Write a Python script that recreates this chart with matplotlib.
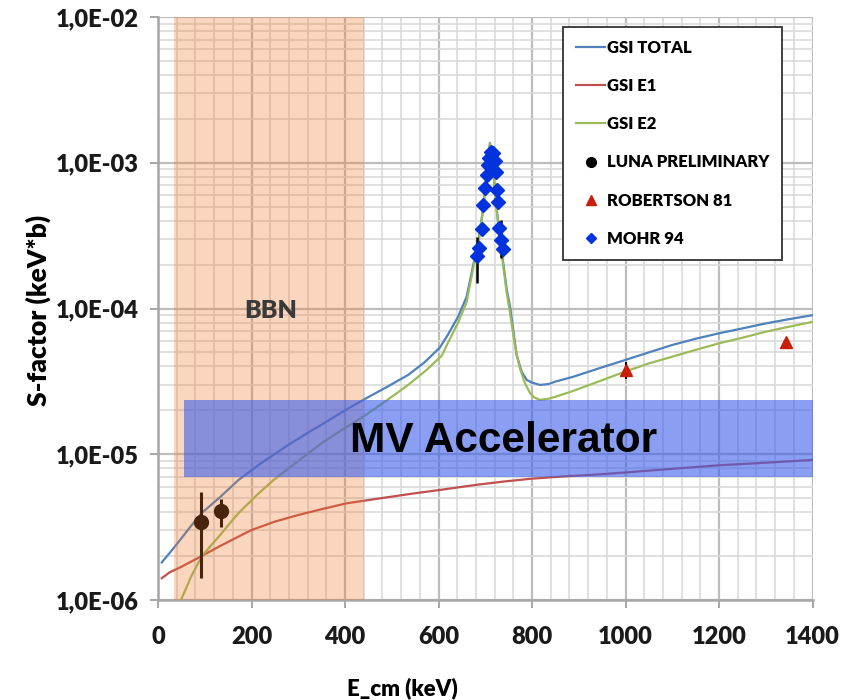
import matplotlib
matplotlib.use("Agg")
import matplotlib.pyplot as plt
from matplotlib.patches import Rectangle
from matplotlib.lines import Line2D
from matplotlib.ticker import FixedLocator, FixedFormatter, MultipleLocator, LogLocator, NullFormatter

# ---- data -------------------------------------------------------------
# GSI calculation: total S-factor (keV*b) vs centre-of-mass energy (keV)
gsi_total_e = [8, 30, 50, 70, 93, 130, 172, 220, 279, 320, 360, 400, 439, 490, 535, 570, 603,
               620, 642, 660, 675, 686, 696, 703, 710, 717, 724, 732, 739, 746, 753, 760, 767,
               778, 789, 800, 817, 835, 850, 888, 950, 1000, 1050, 1100, 1150, 1200, 1250,
               1300, 1350, 1400]
gsi_total_s = [1.81e-6, 2.2e-6, 2.65e-6, 3.2e-6, 3.94e-6, 4.99e-6, 6.65e-6, 8.67e-6, 1.16e-5,
               1.4e-5, 1.67e-5, 2.0e-5, 2.36e-5, 2.9e-5, 3.5e-5, 4.27e-5, 5.4e-5, 6.6e-5,
               8.8e-5, 1.2e-4, 2.04e-4, 3.0e-4, 5.0e-4, 8.5e-4, 1.37e-3, 9.0e-4, 5.0e-4,
               2.9e-4, 2.0e-4, 1.35e-4, 1.03e-4, 7.1e-5, 4.8e-5, 3.68e-5, 3.23e-5, 3.1e-5,
               2.99e-5, 3.03e-5, 3.15e-5, 3.40e-5, 3.95e-5, 4.44e-5, 5.0e-5, 5.62e-5, 6.2e-5,
               6.76e-5, 7.3e-5, 7.9e-5, 8.45e-5, 9.0e-5]

# GSI E1 component
gsi_e1_e = [8, 25, 50, 93, 130, 165, 200, 250, 300, 350, 404, 450, 500, 550, 603, 678, 740,
            800, 870, 945, 1000, 1117, 1200, 1300, 1400]
gsi_e1_s = [1.41e-6, 1.55e-6, 1.69e-6, 2.0e-6, 2.32e-6, 2.65e-6, 3.02e-6, 3.45e-6, 3.83e-6,
            4.2e-6, 4.61e-6, 4.85e-6, 5.12e-6, 5.4e-6, 5.69e-6, 6.15e-6, 6.5e-6, 6.8e-6,
            7.05e-6, 7.28e-6, 7.5e-6, 8.02e-6, 8.4e-6, 8.75e-6, 9.14e-6]

# GSI E2 component
gsi_e2_e = [49, 60, 70, 93, 110, 130, 150, 172, 210, 247, 300, 350, 395, 439, 490, 535, 575,
            607, 620, 642, 660, 675, 686, 696, 703, 710, 717, 724, 732, 739, 746, 753, 764,
            774, 785, 796, 805, 817, 835, 850, 888, 950, 1000, 1050, 1100, 1150, 1200, 1250,
            1300, 1350, 1400]
gsi_e2_s = [1.0e-6, 1.2e-6, 1.43e-6, 1.98e-6, 2.3e-6, 2.72e-6, 3.25e-6, 3.94e-6, 5.2e-6,
            6.65e-6, 9.0e-6, 1.19e-5, 1.48e-5, 1.81e-5, 2.35e-5, 2.99e-5, 3.8e-5, 4.75e-5,
            5.8e-5, 8.0e-5, 1.1e-4, 1.95e-4, 2.9e-4, 4.9e-4, 8.4e-4, 1.36e-3, 8.9e-4, 4.9e-4,
            2.8e-4, 1.9e-4, 1.27e-4, 9.3e-5, 5.47e-5, 3.89e-5, 3.07e-5, 2.62e-5, 2.45e-5,
            2.36e-5, 2.4e-5, 2.48e-5, 2.72e-5, 3.22e-5, 3.7e-5, 4.2e-5, 4.67e-5, 5.2e-5,
            5.77e-5, 6.3e-5, 6.93e-5, 7.5e-5, 8.1e-5]

# LUNA preliminary points with asymmetric errors
luna_e = [93, 134]
luna_s = [3.44e-6, 4.10e-6]
luna_err_lo = [2.03e-6, 0.92e-6]
luna_err_hi = [2.09e-6, 0.81e-6]

# Robertson 1981
rob_e = [1000, 1343]
rob_s = [3.8e-5, 5.9e-5]
rob_err = [5e-6, 3e-6]

# Mohr 1994 (resonance)
mohr_e = [683, 687, 692, 696, 700, 703, 706, 709, 712, 717, 721, 723, 726, 728, 730, 734, 737]
mohr_s = [2.30e-4, 2.59e-4, 3.51e-4, 5.13e-4, 6.68e-4, 8.24e-4, 9.65e-4, 1.07e-3, 1.19e-3,
          1.16e-3, 1.02e-3, 8.68e-4, 6.50e-4, 5.41e-4, 3.55e-4, 2.95e-4, 2.55e-4]
mohr_err_lo = [0.81e-4, 0, 0, 0, 0, 0, 0, 0, 0, 0, 0, 0, 0, 0, 0, 0.74e-4, 0]
mohr_err_hi = [0.81e-4, 0, 0, 0, 0, 0, 0, 0, 0, 0, 0, 0, 0, 0, 0, 1.10e-4, 0]

# energy windows
bbn_range = [35, 440]
mv_range_e = [55, 1400]
mv_range_s = [7.0e-6, 2.37e-5]

y_ticks = [1e-6, 1e-5, 1e-4, 1e-3, 1e-2]
y_tick_labels = ["1,0E-06", "1,0E-05", "1,0E-04", "1,0E-03", "1,0E-02"]
x_ticks = [0, 200, 400, 600, 800, 1000, 1200, 1400]

# ---- style ------------------------------------------------------------
FONT = ["Lato", "DejaVu Sans"]
plt.rcParams["font.family"] = FONT
W = "heavy"

C_TOTAL = "#4F81BD"
C_E1 = "#C0504D"
C_E2 = "#9BBB59"
C_ROB = "#C81E0A"
C_MOHR = "#0033DD"

fig = plt.figure(figsize=(8.47, 7.0), dpi=100)
ax = fig.add_axes([158 / 847, 100 / 700, 654.5 / 847, 583 / 700])

ax.set_yscale("log")
ax.set_xlim(0, 1400)
ax.set_ylim(1e-6, 1e-2)

# grid
ax.xaxis.set_major_locator(FixedLocator(x_ticks))
ax.xaxis.set_minor_locator(MultipleLocator(40))
ax.yaxis.set_major_locator(FixedLocator(y_ticks))
ax.yaxis.set_major_formatter(FixedFormatter(y_tick_labels))
ax.yaxis.set_minor_locator(LogLocator(base=10, subs=range(2, 10)))
ax.yaxis.set_minor_formatter(NullFormatter())
ax.set_axisbelow(True)
ax.grid(which="major", color="#BDBDBD", lw=1.6, zorder=0)
ax.grid(which="minor", color="#DADADA", lw=1.2, zorder=0)

for s in ("top", "right"):
    ax.spines[s].set_visible(False)
for s in ("left", "bottom"):
    ax.spines[s].set_color("#A6A6A6")
    ax.spines[s].set_linewidth(1.8)

ax.tick_params(which="major", direction="out", length=6, width=1.4, color="#A6A6A6",
               labelsize=17, labelcolor="#1a1a1a")
ax.tick_params(axis="x", which="major", pad=13)
ax.tick_params(axis="y", which="major", pad=8)
ax.tick_params(which="minor", length=0)
for lab in ax.get_xticklabels() + ax.get_yticklabels():
    lab.set_fontweight(W)

# curves
ax.plot(gsi_total_e, gsi_total_s, color=C_TOTAL, lw=1.6, zorder=2)
ax.plot(gsi_e1_e, gsi_e1_s, color=C_E1, lw=1.6, zorder=2)
ax.plot(gsi_e2_e, gsi_e2_s, color=C_E2, lw=1.6, zorder=2)

# data points
ax.errorbar(mohr_e, mohr_s, yerr=[mohr_err_lo, mohr_err_hi], fmt="none", ecolor="black",
            elinewidth=1.8, zorder=2.5)
ax.plot(mohr_e, mohr_s, ls="none", marker="D", ms=7, color=C_MOHR, mec=C_MOHR, zorder=3)
ax.errorbar(rob_e, rob_s, yerr=rob_err, fmt="none", ecolor="black", elinewidth=1.5, zorder=2.5)
ax.plot(rob_e, rob_s, ls="none", marker="^", ms=8, color=C_ROB, zorder=3)
ax.errorbar(luna_e, luna_s, yerr=[luna_err_lo, luna_err_hi], fmt="o", color="black",
            ms=10, elinewidth=2.2, capsize=0, zorder=3)

# BBN energy window
ax.axvspan(bbn_range[0], bbn_range[1], color=(240 / 255, 120 / 255, 40 / 255), alpha=0.3,
           lw=0, zorder=4)
ax.text(240, 9.6e-5, "BBN", ha="center", va="center", fontsize=18, fontweight=W,
        color="#3a3a3a", zorder=6)

# MV accelerator window
ax.add_patch(Rectangle((mv_range_e[0], mv_range_s[0]), mv_range_e[1] - mv_range_e[0],
                       mv_range_s[1] - mv_range_s[0], facecolor=(60 / 255, 95 / 255, 235 / 255),
                       alpha=0.6, lw=0, zorder=5))
ax.text(740, 1.035e-5, "MV Accelerator", ha="center", va="baseline", fontsize=30.5,
        fontweight="bold", family=["Liberation Sans", "DejaVu Sans"], color="black", zorder=6)

ax.set_xlabel("E_cm (keV)", fontsize=16, fontweight=W)
ax.xaxis.set_label_coords((402 - 158) / 654.5, -(688 - 600) / 583)
ax.xaxis.label.set_va("center")
ax.set_ylabel("S-factor (keV*b)", fontsize=19, fontweight=W)
ax.yaxis.set_label_coords(-(158 - 38) / 654.5, 0.497)
ax.yaxis.label.set_va("center")

# legend
handles = [
    Line2D([], [], color=C_TOTAL, lw=1.6),
    Line2D([], [], color=C_E1, lw=1.6),
    Line2D([], [], color=C_E2, lw=1.6),
    Line2D([], [], ls="none", marker="o", ms=7, color="black"),
    Line2D([], [], ls="none", marker="^", ms=7, color=C_ROB),
    Line2D([], [], ls="none", marker="D", ms=5, color=C_MOHR),
]
labels = ["GSI TOTAL", "GSI E1", "GSI E2", "LUNA PRELIMINARY", "ROBERTSON 81", "MOHR 94"]
leg = ax.legend(handles, labels, loc="upper left", bbox_to_anchor=(0.619, 0.983),
                prop={"weight": W, "size": 12, "family": FONT}, frameon=True,
                fancybox=False, edgecolor="#333333", framealpha=1.0, labelspacing=1.33,
                handlelength=1.75, handletextpad=0.1, borderpad=0.78, borderaxespad=0)
leg.get_frame().set_linewidth(1.3)
leg.set_zorder(7)

fig.savefig("out.png", dpi=100)
